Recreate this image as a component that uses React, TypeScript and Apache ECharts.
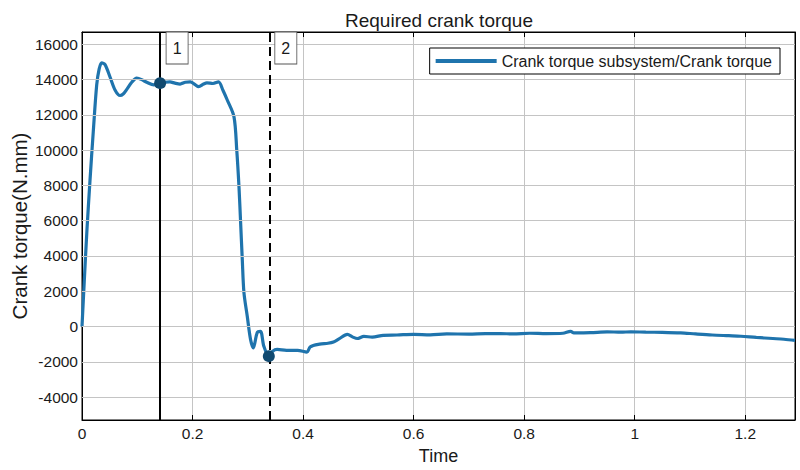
import React, { useEffect, useRef } from "react";
import * as echarts from "echarts";

const time = [
  0, 0.004, 0.009, 0.0145, 0.0205, 0.0266, 0.031, 0.0357, 0.0417, 0.0507, 0.06, 0.0688, 0.075, 0.081,
  0.09, 0.099, 0.108, 0.117, 0.13, 0.1413, 0.15, 0.159, 0.168, 0.1775, 0.187, 0.196, 0.211, 0.22,
  0.226, 0.237, 0.247, 0.255, 0.263, 0.275, 0.28, 0.284, 0.287, 0.29, 0.293, 0.299, 0.305, 0.31,
  0.317, 0.323, 0.329, 0.338, 0.345, 0.353, 0.37, 0.39, 0.407, 0.413, 0.43, 0.445, 0.455, 0.465,
  0.48, 0.49, 0.498, 0.51, 0.525, 0.545, 0.57, 0.6, 0.63, 0.66, 0.7, 0.73, 0.757, 0.78, 0.81, 0.84,
  0.87, 0.884, 0.89, 0.92, 0.95, 0.975, 0.993, 1.02, 1.05, 1.083, 1.11, 1.14, 1.17, 1.192, 1.22,
  1.25, 1.27, 1.29,
];
const torque = [
  0, 2500, 5500, 8300, 11100, 13700, 14600, 14950, 14850, 14150, 13400, 13100, 13200, 13450,
  13850, 14080, 14000, 13850, 13700, 13800, 13850, 13870, 13800, 13750, 13850, 13870, 13600, 13750,
  13820, 13780, 13870, 13400, 12830, 11890, 10000, 7930, 5880, 3790, 1920, 580, -740, -1210,
  -340, -270, -1120, -1680, -1400, -1300, -1350, -1350, -1450, -1150, -1000, -950, -880, -700,
  -450, -600, -680, -560, -600, -500, -480, -440, -470, -420, -430, -400, -400, -420, -380, -400,
  -380, -270, -360, -350, -300, -320, -300, -320, -330, -360, -420, -480, -520, -550, -620,
  -680, -720, -780,
];

const markerTimes = [0.1413, 0.338];
const markerValues = [13800, -1680];
const markerLabels = ["1", "2"];

const yTicks = [-4000, -2000, 0, 2000, 4000, 6000, 8000, 10000, 12000, 14000, 16000];
const xTicks = [0, 0.2, 0.4, 0.6, 0.8, 1, 1.2];
const yMin = -5300;
const yMax = 16700;
const xMin = 0;
const xMax = 1.29;

const seriesName = "Crank torque subsystem/Crank torque";
const FONT = "'Liberation Sans', Arial, sans-serif";

export default function App() {
  const ref = useRef<HTMLDivElement>(null);
  useEffect(() => {
    if (!ref.current) return;
    const chart = echarts.init(ref.current, null, { renderer: "svg" });
    const data = time.map((t, i) => [t, torque[i]]);
    const lineColor = "#1f74ad";
    chart.setOption({
      animation: false,
      backgroundColor: "#ffffff",
      textStyle: { fontFamily: FONT },
      title: {
        text: "Required crank torque",
        left: 340,
        top: 6,
        textStyle: { fontFamily: FONT, fontSize: 19, fontWeight: "normal", color: "#1a1a1a" },
      },
      legend: {
        data: [seriesName],
        right: 20,
        top: 48,
        z: 10,
        icon: "rect",
        itemWidth: 61,
        itemHeight: 4,
        padding: [5, 8, 5, 6],
        backgroundColor: "#ffffff",
        borderColor: "#000000",
        borderWidth: 1,
        borderRadius: 0,
        textStyle: { fontFamily: FONT, fontSize: 16, color: "#1a1a1a" },
      },
      grid: {
        left: 82,
        right: 5,
        top: 32,
        bottom: 50,
        show: true,
        outerBoundsMode: "none",
        containLabel: false,
        borderColor: "#000000",
        borderWidth: 1,
        backgroundColor: "#ffffff",
      },
      xAxis: [
        {
          type: "value",
          min: xMin,
          max: xMax,
          interval: 0.2,
          name: "Time",
          nameLocation: "middle",
          nameGap: 27,
          nameMoveOverlap: false,
          nameTextStyle: { fontFamily: FONT, fontSize: 18, color: "#1a1a1a" },
          axisLine: { show: true, onZero: false, lineStyle: { color: "#000", width: 1 } },
          axisTick: { show: true, inside: true, length: 5, lineStyle: { color: "#000" } },
          axisLabel: {
            customValues: xTicks,
            margin: 5,
            fontFamily: FONT,
            fontSize: 15.5,
            color: "#1a1a1a",
            formatter: (v: number) => String(Math.round(v * 10) / 10),
          },
          splitLine: { show: true, lineStyle: { color: "#c4c4c4", width: 1 } },
        },
        {
          type: "value",
          position: "top",
          min: xMin,
          max: xMax,
          interval: 0.2,
          axisLine: { show: true, onZero: false, lineStyle: { color: "#000", width: 1 } },
          axisTick: { show: true, inside: true, length: 5, lineStyle: { color: "#000" } },
          axisLabel: { show: false },
          splitLine: { show: false },
        },
      ],
      yAxis: [
        {
          type: "value",
          min: yMin,
          max: yMax,
          name: "Crank torque(N.mm)",
          nameLocation: "middle",
          nameGap: 52,
          nameMoveOverlap: false,
          nameTextStyle: { fontFamily: FONT, fontSize: 20.5, color: "#1a1a1a" },
          axisLine: { show: true, onZero: false, lineStyle: { color: "#000", width: 1 } },
          axisTick: { show: true, inside: true, length: 5, customValues: yTicks, lineStyle: { color: "#000" } },
          axisLabel: {
            customValues: yTicks,
            margin: 4,
            fontFamily: FONT,
            fontSize: 15.5,
            color: "#1a1a1a",
            formatter: (v: number) => String(v),
          },
          splitLine: { show: false },
        },
        {
          type: "value",
          position: "right",
          min: yMin,
          max: yMax,
          axisLine: { show: true, onZero: false, lineStyle: { color: "#000", width: 1 } },
          axisTick: { show: true, inside: true, length: 5, customValues: yTicks, lineStyle: { color: "#000" } },
          axisLabel: { show: false },
          splitLine: { show: false },
        },
      ],
      series: [
        {
          type: "line",
          z: 1,
          data: [],
          silent: true,
          markLine: {
            silent: true,
            symbol: ["none", "none"],
            label: { show: false },
            animation: false,
            data: [
              ...yTicks.map((v) => ({ yAxis: v, lineStyle: { color: "#c4c4c4", width: 1, type: "solid" } })),
              { xAxis: markerTimes[0], lineStyle: { color: "#000", width: 2, type: "solid" } },
              { xAxis: markerTimes[1], lineStyle: { color: "#000", width: 2, type: [9, 5] } },
            ],
          },
        },
        {
          name: seriesName,
          type: "line",
          z: 3,
          data,
          showSymbol: false,
          smooth: 0.3,
          color: lineColor,
          lineStyle: { color: lineColor, width: 3.2 },
          markPoint: {
            silent: true,
            animation: false,
            data: [
              ...markerTimes.map((t, i) => ({
                coord: [t, markerValues[i]],
                symbol: "circle",
                symbolSize: 12,
                itemStyle: { color: "#114a70" },
                label: { show: false },
              })),
              ...markerTimes.map((t, i) => ({
                coord: [t, yMax],
                symbol: "rect",
                symbolSize: [22, 32],
                symbolOffset: [17, 16],
                itemStyle: { color: "#ffffff", borderColor: "#555555", borderWidth: 1 },
                label: {
                  show: true,
                  position: "inside",
                  formatter: markerLabels[i],
                  fontFamily: FONT,
                  fontSize: 16,
                  color: "#1a1a1a",
                },
              })),
            ],
          },
        },
      ],
    });
    return () => chart.dispose();
  }, []);
  return (
    <div
      ref={ref}
      style={{ position: "fixed", left: 0, top: 0, width: 800, height: 470, background: "#fff" }}
    />
  );
}
